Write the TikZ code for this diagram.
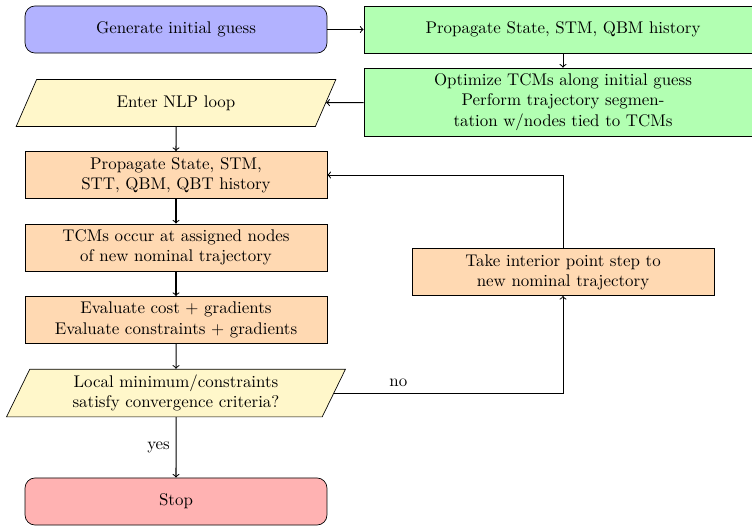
\documentclass[tikz,border=0pt]{standalone}
\usetikzlibrary{shapes.geometric}
\definecolor{paleyellow}{RGB}{255,247,202}
\begin{document}
\begin{tikzpicture}[x=0.0208cm, y=-0.0208cm,
    box/.style={draw, fill=orange!30, minimum width=6.28cm, minimum height=0.98cm, align=center},
    endbox/.style={box, rounded corners=6pt},
    greenbox/.style={box, fill=green!30, minimum width=8.28cm},
    iobox/.style={draw, fill=paleyellow, trapezium, trapezium left angle=70, trapezium right angle=110,
                  trapezium stretches=true, minimum height=0.98cm, align=center},
    arr/.style={semithick, ->}]
      \useasboundingbox (0, 0) rectangle (752, 526);
      \node (guess) [endbox, fill=blue!30] at (176, 29.5) {Generate initial guess};
      \node (prop) [greenbox] at (563, 29.5) {Propagate State, STM, QBM history};
      \node (opt) [greenbox, minimum height=1.41cm] at (563, 102)
            {Optimize TCMs along initial guess\\Perform trajectory segmen-\\tation w/nodes tied to TCMs};
      \node (nlp) [iobox, minimum width=6.68cm] at (176, 103) {Enter NLP loop};
      \node (propall) [box] at (176, 175) {Propagate State, STM,\\STT, QBM, QBT history};
      \node (tcm) [box] at (176, 247.5) {TCMs occur at assigned nodes\\of new nominal trajectory};
      \node (eval) [box] at (176, 320) {Evaluate cost + gradients\\Evaluate constraints + gradients};
      \node (check) [iobox, minimum width=7.05cm] at (176, 393)
            {Local minimum/constraints\\satisfy convergence criteria?};
      \node (stop) [endbox, fill=red!30] at (176, 501.5) {Stop};
      \node (ipstep) [box] at (563, 272) {Take interior point step to\\new nominal trajectory};
      % main flow
      \draw[arr] (guess) -- (prop);
      \draw[arr] (prop) -- (opt);
      \draw[arr] (opt) -- (nlp);
      \draw[arr] (nlp) -- (propall);
      \draw[arr] (propall) -- (tcm);
      \draw[arr] (tcm) -- (eval);
      \draw[arr] (eval) -- (check);
      \draw[arr] (check) -- node [left] {yes} (stop);
      % loop back
      \draw[arr] (check.east) -- node [pos=.28, above] {no} (check.east -| ipstep) -- (ipstep);
      \draw[arr] (ipstep) |- (propall);
\end{tikzpicture}
\end{document}
